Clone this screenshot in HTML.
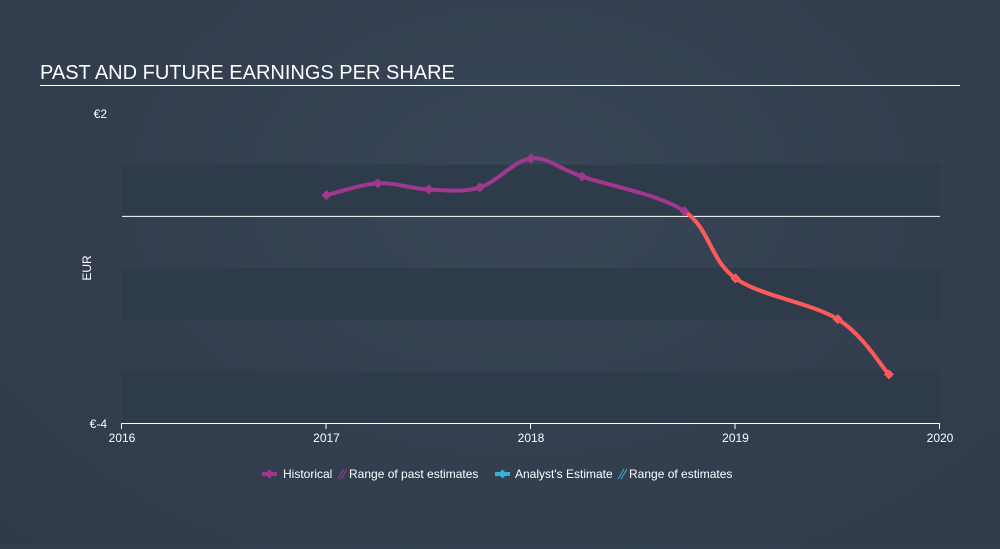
<!DOCTYPE html>
<html><head><meta charset="utf-8"><style>
html,body{margin:0;padding:0;}
body{width:1000px;height:544px;overflow:hidden;background:radial-gradient(ellipse at 52% 35%,#394657 0%,#333f4f 55%,#2f3a49 100%);font-family:"Liberation Sans",sans-serif;}
svg text{font-family:"Liberation Sans",sans-serif;}
</style></head><body>
<svg id="chart" width="1000" height="544">
<text x="40" y="79" fill="#fff" font-size="20">PAST AND FUTURE EARNINGS PER SHARE</text>
<rect x="40" y="85" width="920" height="1" fill="#fff"/>
<g id="bands"></g>
<g id="axes"></g>
<g id="lines"></g>
<g id="points"></g>
<text x="91" y="268" fill="#fff" font-size="12" transform="rotate(-90 91 268)" text-anchor="middle">EUR</text>
<g>
 <g><line x1="262" y1="474" x2="277" y2="474" stroke="#a0388f" stroke-width="4"/><path d="M269.5 469.5 L274 474 L269.5 478.5 L265 474Z" fill="#a0388f"/><text x="283" y="478" fill="#fff" font-size="12">Historical</text></g>
 <g><path d="M338 479 L344 469 M341 479 L347 469" stroke="#a0388f" stroke-width="1"/><text x="349" y="478" fill="#fff" font-size="12">Range of past estimates</text></g>
 <g><line x1="495" y1="474" x2="510" y2="474" stroke="#3ab0d8" stroke-width="4"/><path d="M502.5 469.5 L507 474 L502.5 478.5 L498 474Z" fill="#3ab0d8"/><text x="515" y="478" fill="#fff" font-size="12">Analyst's Estimate</text></g>
 <g><path d="M618 479 L624 469 M621 479 L627 469" stroke="#3ab0d8" stroke-width="1"/><text x="629" y="478" fill="#fff" font-size="12">Range of estimates</text></g>
</g>
</svg>
<script>
const years=[2017,2017.25,2017.5,2017.75,2018,2018.25,2018.75,2019,2019.5,2019.75];
const eps=[0.41,0.64,0.52,0.56,1.12,0.77,0.1,-1.2,-1.99,-3.06];
const splitIndex=6;
const xTicks=[2016,2017,2018,2019,2020];
const yTickVals=[2,-4];
const yTickLabels=["€2","€-4"];
const X0=122,X1=940,Y0=113,Y1=423,XMIN=2016,XMAX=2020,YMIN=-4,YMAX=2;
const x=v=>X0+(v-XMIN)/(XMAX-XMIN)*(X1-X0);
const y=v=>Y1-(v-YMIN)/(YMAX-YMIN)*(Y1-Y0);
const NS="http://www.w3.org/2000/svg";
function mk(tag,attrs,parent){const e=document.createElementNS(NS,tag);for(const k in attrs)e.setAttribute(k,attrs[k]);document.getElementById(parent).appendChild(e);return e;}
[[0,1],[-2,-1],[-4,-3]].forEach(b=>{
 const r=mk('rect',{x:X0,y:y(b[1]),width:X1-X0,height:y(b[0])-y(b[1]),fill:'#2e3b4a'},'bands');
 
 
});
let zl=mk('line',{x1:X0,x2:X1,y1:y(0),y2:y(0),stroke:'#fff','stroke-width':1},'axes');


let xa=mk('line',{x1:X0,x2:X1,y1:Y1+0.5,y2:Y1+0.5,stroke:'#fff','stroke-width':1},'axes');


xTicks.forEach(t=>{
 const l=mk('line',{x1:x(t)-0.5,x2:x(t)-0.5,y1:Y1,y2:Y1+6,stroke:'#fff'},'axes');
 
 
 const tx=mk('text',{x:x(t),y:Y1+19,fill:'#fff','font-size':12,'text-anchor':'middle'},'axes');
 tx.textContent=t;
 
 
});
yTickVals.forEach((v,i)=>{
 const tx=mk('text',{x:107,y:y(v)+5,fill:'#fff','font-size':12,'text-anchor':'end'},'axes');
 tx.textContent=yTickLabels[i];
 
 
});
const P=years.map((yr,i)=>[x(yr),y(eps[i])]);
function seg(a,b){
 const p0=P[Math.max(a-1,0)],p1=P[a],p2=P[b],p3=P[Math.min(b+1,P.length-1)];
 const t=1/6;
 return `C${p1[0]+(p2[0]-p0[0])*t},${p1[1]+(p2[1]-p0[1])*t} ${p2[0]-(p3[0]-p1[0])*t},${p2[1]-(p3[1]-p1[1])*t} ${p2[0]},${p2[1]}`;
}
function path(from,to){let d=`M${P[from][0]},${P[from][1]}`;for(let i=from;i<to;i++)d+=seg(i,i+1);return d;}
const h=mk('path',{d:path(0,splitIndex),fill:'none',stroke:'#a0388f','stroke-width':4},'lines');


const f=mk('path',{d:path(splitIndex,P.length-1),fill:'none',stroke:'#ff5a5a','stroke-width':4},'lines');


P.forEach((p,i)=>{
 const c=i<=splitIndex?'#a0388f':'#ff5a5a';
 const m=mk('path',{d:`M${p[0]},${p[1]-5} L${p[0]+5},${p[1]} L${p[0]},${p[1]+5} L${p[0]-5},${p[1]}Z`,fill:c},'points');
 
 
});
</script>
</body></html>
